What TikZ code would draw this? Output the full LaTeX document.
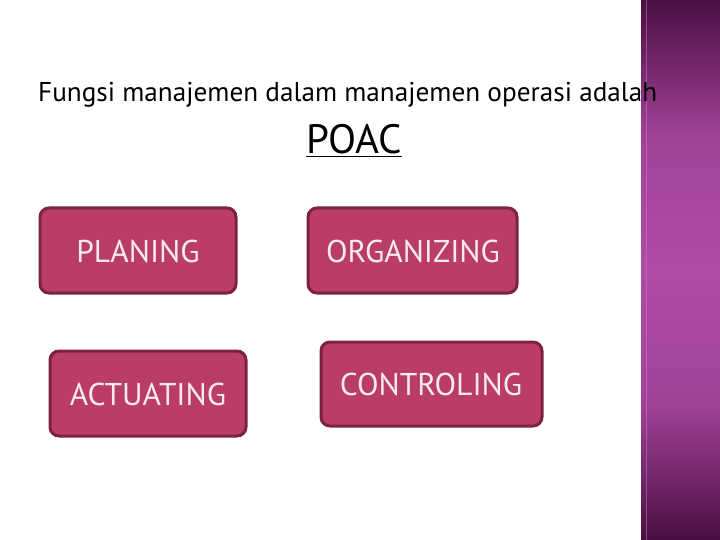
\documentclass[tikz,border=0pt]{standalone}
\usepackage{fontspec}
\setmainfont{PT Sans}
\definecolor{boxfill}{HTML}{B93D67}
\definecolor{boxline}{HTML}{7C2344}
\definecolor{bandtop}{HTML}{4A0E42}
\definecolor{bandmid}{HTML}{B04BA6}
\definecolor{boxtext}{HTML}{F7EAF0}
\begin{document}
\begin{tikzpicture}[x=1pt,y=-1pt,
  pbox/.style={draw=boxline, line width=3pt, fill=boxfill, rounded corners=9pt},
  plabel/.style={text=boxtext, font=\fontsize{31.5}{34}\selectfont, inner sep=0pt}]
\useasboundingbox (0,0) rectangle (720,540);
\fill[white] (0,0) rectangle (720,540);
\shade[top color=bandtop, bottom color=bandmid, middle color=bandmid!85!bandtop] (641,0) rectangle (720,270);
\shade[top color=bandmid, bottom color=bandtop, middle color=bandmid!85!bandtop] (641,270) rectangle (720,540);
\draw[bandmid!70!white, opacity=0.5, line width=0.8pt] (646,0) -- (646,540);
\node[anchor=base west, inner sep=0pt, font=\fontsize{27.2}{30}\selectfont] (title) at (38,102) {Fungsi manajemen dalam manajemen operasi adalah};
\node[anchor=base west, inner sep=0pt, font=\fontsize{41}{44}\selectfont] (poac) at (306,154) {\underline{POAC}};
\draw[pbox] (40,208) rectangle (236,293);
\node[plabel] (plan) at (138,251) {PLANING};
\draw[pbox] (308,208) rectangle (517,293);
\node[plabel] (org) at (413,251) {ORGANIZING};
\draw[pbox] (50,351) rectangle (246,436);
\node[plabel] (act) at (148,394) {ACTUATING};
\draw[pbox] (321,342) rectangle (542,426);
\node[plabel] (ctrl) at (431,384) {CONTROLING};
\end{tikzpicture}
\end{document}
